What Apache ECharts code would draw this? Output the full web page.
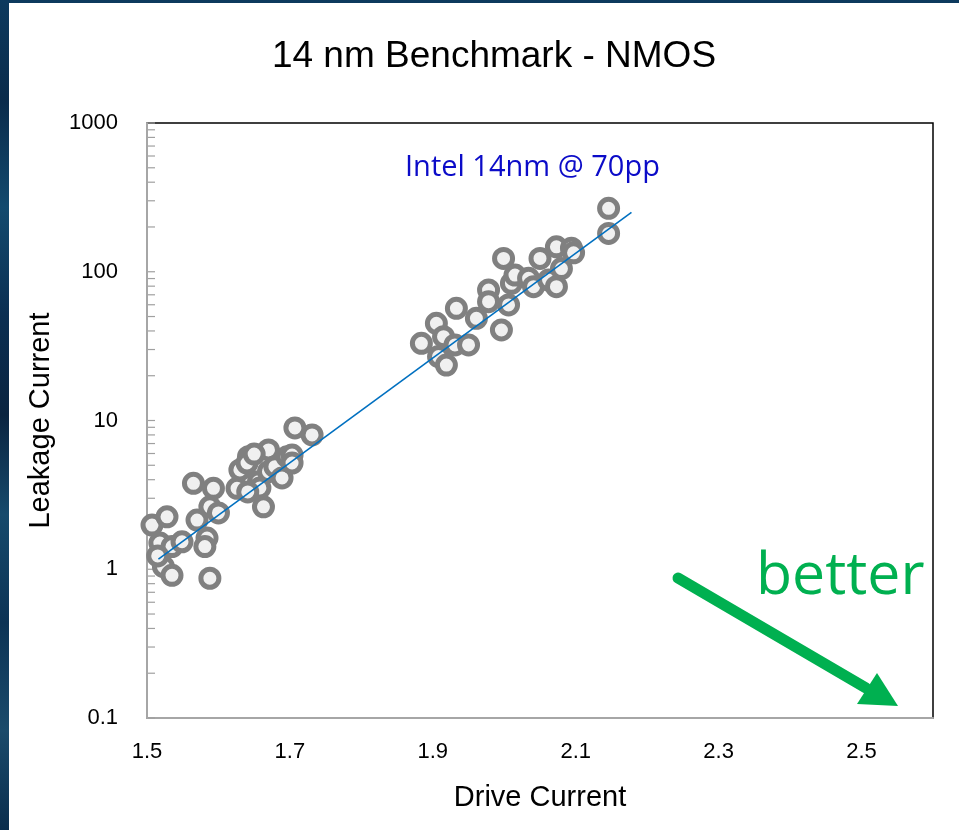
<!DOCTYPE html>
<html>
<head>
<meta charset="utf-8">
<script src="https://cdn.jsdelivr.net/npm/echarts@6/dist/echarts.min.js"></script>
<style>
  html, body { margin: 0; padding: 0; }
  body {
    width: 959px; height: 830px; position: relative; overflow: hidden;
    background: linear-gradient(180deg, #0d3a5e 0%, #0a2b4b 12%, #134a6e 25%, #0b2f52 38%, #0a2440 50%, #164a6c 62%, #0c3355 75%, #1b4b6b 88%, #0a2d4d 100%);
  }
  #panel { position: absolute; left: 9px; top: 3px; width: 950px; height: 827px; background: #ffffff; }
  #chart { position: absolute; left: 0; top: 0; width: 959px; height: 830px; }
</style>
</head>
<body>
<div id="panel"></div>
<div id="chart"></div>
<script>
// ---- data ----
const chartTitle = '14 nm Benchmark - NMOS';
const xAxisName = 'Drive Current';
const yAxisName = 'Leakage Current';
const annotationLabel = 'Intel 14nm @ 70pp';
const betterLabel = 'better';

const driveCurrent = [
  1.507, 1.528, 1.518, 1.535, 1.549, 1.523, 1.535, 1.565, 1.593, 1.570,
  1.588, 1.600, 1.584, 1.581, 1.588, 1.626, 1.630, 1.642, 1.640, 1.656,
  1.658, 1.663, 1.670, 1.670, 1.679, 1.689, 1.696, 1.703, 1.703, 1.707,
  1.731, 1.641, 1.650, 1.515,
  1.884, 1.905, 1.915, 1.933, 1.908, 1.919, 1.931, 1.950, 1.961, 1.978,
  1.978, 1.996, 1.999, 2.006, 2.010, 2.015, 2.034, 2.041, 2.050, 2.062,
  2.073, 2.073, 2.080, 2.094, 2.097, 2.146, 2.146
];
const leakageCurrent = [
  1.98, 2.25, 1.50, 1.42, 1.53, 1.04, 0.91, 3.78, 3.50, 2.14,
  2.63, 2.39, 1.62, 1.42, 0.87, 3.50, 4.65, 5.71, 5.18, 3.88,
  3.52, 2.63, 6.34, 4.53, 4.89, 4.11, 5.71, 5.86, 5.18, 8.91,
  8.00, 3.31, 5.95, 1.23,
  33.0, 45.0, 36.6, 56.8, 26.9, 23.6, 32.2, 32.2, 48.6, 75.4,
  62.9, 40.6, 123, 59.8, 83.6, 95.0, 90.3, 79.4, 123, 88.0,
  79.4, 147, 105, 144, 134, 267, 181
];
const trendDrive = [1.516, 2.178];
const trendLeakage = [1.17, 251];

const xMin = 1.5, xMax = 2.6;
const yMin = 0.1, yMax = 1000;
const xTickLabels = ['1.5', '1.7', '1.9', '2.1', '2.3', '2.5'];
const yTickLabels = ['0.1', '1', '10', '100', '1000'];
const yTickValues = [
  0.1, 0.2, 0.3, 0.4, 0.5, 0.6, 0.7, 0.8, 0.9,
  1, 2, 3, 4, 5, 6, 7, 8, 9,
  10, 20, 30, 40, 50, 60, 70, 80, 90,
  100, 200, 300, 400, 500, 600, 700, 800, 900, 1000
];

// ---- chart ----
const chart = echarts.init(document.getElementById('chart'), null, { renderer: 'canvas' });
const points = driveCurrent.map((x, i) => [x, leakageCurrent[i]]);
const trend = trendDrive.map((x, i) => [x, trendLeakage[i]]);
const tickData = yTickValues.map(v => [xMin, v]);

const option = {
  backgroundColor: 'transparent',
  animation: false,
  title: {
    text: chartTitle,
    left: 489, top: 33, textAlign: 'center',
    textStyle: { fontFamily: 'Liberation Sans, Arial, sans-serif', fontSize: 37, fontWeight: 'normal', color: '#000' }
  },
  grid: {
    left: 147, right: 26, top: 123, bottom: 112,
    show: true, backgroundColor: '#ffffff', borderColor: '#000000', borderWidth: 1.5
  },
  xAxis: {
    type: 'value', min: xMin, max: xMax, interval: 0.1,
    name: xAxisName, nameLocation: 'middle', nameGap: 65,
    nameTextStyle: { fontFamily: 'Liberation Sans, Arial, sans-serif', fontSize: 29, color: '#000' },
    axisLine: { show: true, lineStyle: { color: '#a6a6a6', width: 2 } },
    axisTick: { show: false },
    splitLine: { show: false },
    axisLabel: {
      margin: 23, fontFamily: 'Liberation Sans, Arial, sans-serif', fontSize: 22, color: '#000',
      formatter: function (v) {
        const s = (Math.round(v * 10) / 10).toFixed(1);
        return xTickLabels.indexOf(s) >= 0 ? s : '';
      }
    }
  },
  yAxis: {
    type: 'log', logBase: 10, min: yMin, max: yMax,
    name: yAxisName, nameLocation: 'middle', nameGap: 92, nameRotate: 90,
    nameTextStyle: { fontFamily: 'Liberation Sans, Arial, sans-serif', fontSize: 29, color: '#000' },
    axisLine: { show: true, lineStyle: { color: '#a6a6a6', width: 2 } },
    axisTick: { show: false },
    splitLine: { show: false },
    axisLabel: {
      margin: 29, fontFamily: 'Liberation Sans, Arial, sans-serif', fontSize: 22, color: '#000',
      formatter: function (v) {
        const s = String(+Number(v).toPrecision(3));
        return yTickLabels.indexOf(s) >= 0 ? s : '';
      }
    }
  },
  series: [
    {
      type: 'custom',
      clip: false,
      silent: true,
      z: 1,
      data: tickData,
      renderItem: function (params, api) {
        const p = api.coord([api.value(0), api.value(1)]);
        return {
          type: 'line',
          shape: { x1: p[0] + 1, y1: p[1], x2: p[0] + 8, y2: p[1] },
          style: { stroke: '#a0a0a0', lineWidth: 1.2 }
        };
      }
    },
    {
      type: 'scatter',
      data: points,
      symbol: 'circle',
      symbolSize: 18,
      z: 2,
      itemStyle: { color: '#f0f0f0', borderColor: '#808080', borderWidth: 5, opacity: 1 }
    },
    {
      type: 'line',
      data: trend,
      showSymbol: false,
      symbol: 'none',
      z: 3,
      lineStyle: { color: '#0070c0', width: 1.6 }
    }
  ],
  graphic: [
    {
      type: 'text', left: 405, top: 153, z: 10,
      style: { text: annotationLabel, fill: '#0b0bc8', font: '29px "Open Sans", "Noto Sans", sans-serif' }
    },
    {
      type: 'text', left: 756, top: 548, z: 10,
      style: { text: betterLabel, fill: '#00b050', font: '59px "Open Sans", "Noto Sans", sans-serif' }
    },
    {
      type: 'line', z: 10,
      shape: { x1: 678, y1: 578, x2: 866, y2: 688 },
      style: { stroke: '#00b050', lineWidth: 11, lineCap: 'round' }
    },
    {
      type: 'polygon', z: 10,
      shape: { points: [[898, 706], [857, 704], [877, 673]] },
      style: { fill: '#00b050' }
    }
  ]
};
chart.setOption(option);
</script>
</body>
</html>
